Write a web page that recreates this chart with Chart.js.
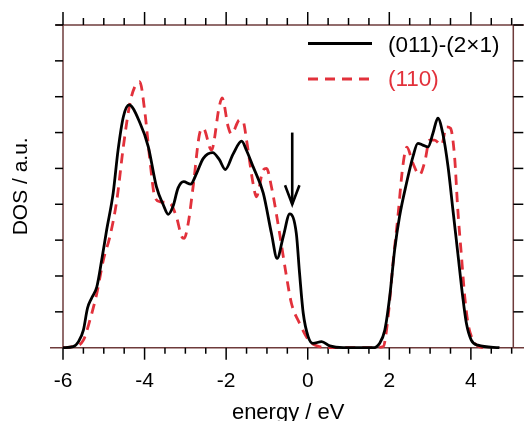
<!DOCTYPE html>
<html>
<head>
<meta charset="utf-8">
<script src="https://cdn.jsdelivr.net/npm/chart.js@4/dist/chart.umd.min.js"></script>
<style>
  html, body { margin: 0; padding: 0; background: #fff; }
  #c { display: block; }
</style>
</head>
<body>
<canvas id="c" width="524" height="421" style="width:524px;height:421px"></canvas>
<script>
// ---- data ----
const seriesNames = ['(011)-(2\u00d71)', '(110)'];

const blackEnergy = [-6, -5.75, -5.62, -5.5, -5.4, -5.3, -5.17, -5.05, -4.93, -4.77,
  -4.65, -4.52, -4.38, -4.11, -3.91, -3.71, -3.54, -3.42, -3.3, -3.18,
  -3.04, -2.87, -2.73, -2.56, -2.33, -2.17, -2.02, -1.83, -1.62, -1.5,
  -1.34, -1.09, -0.89, -0.75, -0.6, -0.44, -0.28, -0.2, -0.11, 0.01,
  0.13, 0.34, 0.54, 0.87, 1.6, 1.76, 1.89, 2.01, 2.13, 2.25,
  2.42, 2.58, 2.7, 2.82, 2.95, 3.07, 3.19, 3.31, 3.44, 3.56,
  3.68, 3.8, 3.89, 4.01, 4.17, 4.7];
const blackDOS = [0, 0.03, 0.17, 0.49, 1.10, 1.38, 1.70, 2.45, 3.28, 4.31,
  5.51, 6.44, 6.77, 6.26, 5.61, 4.49, 3.98, 3.72, 3.95, 4.45,
  4.63, 4.56, 4.85, 5.28, 5.44, 5.25, 4.97, 5.40, 5.76, 5.50,
  5.05, 4.31, 3.19, 2.49, 3.10, 3.73, 3.19, 2.07, 0.96, 0.31,
  0.12, 0.17, 0.05, 0, 0, 0.12, 0.49, 1.42, 2.72, 3.65,
  4.58, 5.33, 5.70, 5.65, 5.60, 5.98, 6.40, 5.98, 5.05, 3.84,
  2.63, 1.42, 0.68, 0.21, 0.07, 0];

const redEnergy = [-6, -5.75, -5.5, -5.34, -5.17, -5.01, -4.85, -4.68, -4.52, -4.36,
  -4.24, -4.12, -3.99, -3.87, -3.75, -3.62, -3.38, -3.22, -3.09, -3.03,
  -2.93, -2.81, -2.64, -2.56, -2.36, -2.17, -2.10, -1.95, -1.87, -1.67,
  -1.58, -1.50, -1.34, -1.26, -1.09, -1.01, -0.89, -0.69, -0.52, -0.40,
  -0.20, 0.05, 0.29, 0.6, 1.6, 1.85, 1.97, 2.09, 2.21, 2.33,
  2.43, 2.58, 2.74, 2.87, 2.99, 3.11, 3.28, 3.40, 3.50, 3.60,
  3.68, 3.77, 3.85, 3.93, 4.05, 4.17, 4.3];
const redDOS = [0, 0.03, 0.21, 0.77, 1.52, 2.45, 3.10, 4.12, 5.61, 6.81,
  7.28, 7.42, 6.54, 5.23, 4.21, 4.07, 4.03, 3.65, 3.10, 3.05,
  3.47, 4.49, 6.02, 6.12, 5.51, 6.72, 6.97, 6.16, 5.96, 6.35,
  6.30, 5.79, 4.58, 4.21, 4.96, 5.0, 4.49, 3.19, 1.98, 1.24,
  0.68, 0.17, 0.03, 0, 0, 0.03, 0.86, 2.35, 3.65, 5.05,
  5.59, 5.14, 4.82, 5.19, 5.79, 5.79, 5.65, 6.16, 6.12, 5.33,
  3.84, 2.54, 1.42, 0.68, 0.21, 0.05, 0];

const xTickValues = [-6, -4, -2, 0, 2, 4];
const arrowEnergy = -0.38;
const arrowFrom = 6.0;
const arrowTo = 4.0;

// ---- chart ----
Chart.defaults.font.family = '"Liberation Sans", Arial, Helvetica, sans-serif';
Chart.defaults.color = '#000';

const AXIS_COLOR = '#6e3b3b';
const RED = '#e2313b';

function pts(xs, ys) { return xs.map((x, i) => ({ x: x, y: ys[i] })); }

function line(ctx, x1, y1, x2, y2) {
  ctx.beginPath(); ctx.moveTo(x1, y1); ctx.lineTo(x2, y2); ctx.stroke();
}

const framePlugin = {
  id: 'frame',
  beforeDatasetsDraw(chart) {
    const ctx = chart.ctx;
    const xs = chart.scales.x, ys = chart.scales.y;
    const { left, right, top, bottom } = chart.chartArea;
    ctx.save();
    ctx.lineCap = 'butt';
    ctx.strokeStyle = AXIS_COLOR;
    ctx.lineWidth = 1.5;
    line(ctx, left - 13, bottom, chart.width, bottom);
    line(ctx, left - 7, top, chart.width, top);
    line(ctx, left, top, left, bottom);
    line(ctx, right, top, right, bottom);
    ctx.strokeStyle = '#000';
    ctx.lineWidth = 1.5;
    for (let k = 0; k <= 22; k++) {
      const v = xs.min + k * 0.5;
      const px = xs.getPixelForValue(v);
      if (px > right + 1) continue;
      const major = Math.abs(v % 2) < 1e-9;
      line(ctx, px, bottom, px, bottom + (major ? 12 : 6));
      line(ctx, px, top, px, top - (major ? 13 : 7));
    }
    for (let v = 1; v <= ys.max; v++) {
      const py = ys.getPixelForValue(v);
      line(ctx, left - 8, py, left, py);
      line(ctx, right, py, right + 10, py);
    }
    ctx.restore();
  },
  afterDatasetsDraw(chart) {
    const ctx = chart.ctx;
    const xs = chart.scales.x, ys = chart.scales.y;
    const ax = xs.getPixelForValue(arrowEnergy);
    const y1 = ys.getPixelForValue(arrowFrom);
    const y2 = ys.getPixelForValue(arrowTo);
    ctx.save();
    ctx.strokeStyle = '#000';
    ctx.lineWidth = 2.6;
    line(ctx, ax, y1, ax, y2);
    ctx.beginPath();
    ctx.moveTo(ax - 7.2, y2 - 19);
    ctx.lineTo(ax, y2);
    ctx.lineTo(ax + 7.2, y2 - 19);
    ctx.stroke();
    const rows = [{ y: 43.5, ty: 46 }, { y: 79, ty: 79.5 }];
    chart.data.datasets.forEach((ds, i) => {
      const r = rows[i];
      ctx.strokeStyle = ds.borderColor;
      ctx.lineWidth = 2.8;
      ctx.setLineDash(ds.borderDash || []);
      line(ctx, 308, r.y, 372, r.y);
      ctx.setLineDash([]);
      ctx.fillStyle = ds.legendTextColor;
      ctx.font = '22.5px "Liberation Sans", Arial, sans-serif';
      ctx.textAlign = 'left';
      ctx.textBaseline = 'middle';
      ctx.fillText(ds.label, 388, r.ty);
    });
    ctx.restore();
  }
};

new Chart(document.getElementById('c'), {
  type: 'line',
  data: {
    datasets: [
      {
        label: seriesNames[0],
        data: pts(blackEnergy, blackDOS),
        borderColor: '#000',
        legendTextColor: '#000',
        borderWidth: 2.8,
        pointRadius: 0,
        cubicInterpolationMode: 'monotone',
        clip: false
      },
      {
        label: seriesNames[1],
        data: pts(redEnergy, redDOS),
        borderColor: RED,
        legendTextColor: RED,
        borderWidth: 2.8,
        borderDash: [10, 7],
        pointRadius: 0,
        cubicInterpolationMode: 'monotone',
        clip: false
      }
    ]
  },
  options: {
    responsive: false,
    animation: false,
    events: [],
    layout: { padding: { top: 25, right: 10.7, left: 0, bottom: 0 } },
    plugins: { legend: { display: false }, tooltip: { enabled: false } },
    scales: {
      x: {
        type: 'linear',
        min: -6,
        max: 5.04,
        afterFit: (s) => { s.height = 73.3; },
        afterBuildTicks: (s) => { s.ticks = xTickValues.map(v => ({ value: v })); },
        ticks: {
          font: { size: 21 },
          color: '#000',
          padding: 21,
          maxRotation: 0,
          autoSkip: false,
          callback: (v) => String(v)
        },
        grid: { display: false, drawTicks: false },
        border: { display: false },
        title: {
          display: true,
          text: 'energy / eV',
          font: { size: 22 },
          color: '#000',
          padding: { top: 0, bottom: -5 }
        }
      },
      y: {
        type: 'linear',
        min: 0,
        max: 9,
        afterFit: (s) => { s.width = 63; },
        ticks: { display: false, stepSize: 1 },
        grid: { display: false, drawTicks: false },
        border: { display: false },
        title: {
          display: true,
          text: 'DOS / a.u.',
          font: { size: 21 },
          color: '#000',
          padding: { top: 9, bottom: 0 }
        }
      }
    }
  },
  plugins: [framePlugin]
});
</script>
</body>
</html>
